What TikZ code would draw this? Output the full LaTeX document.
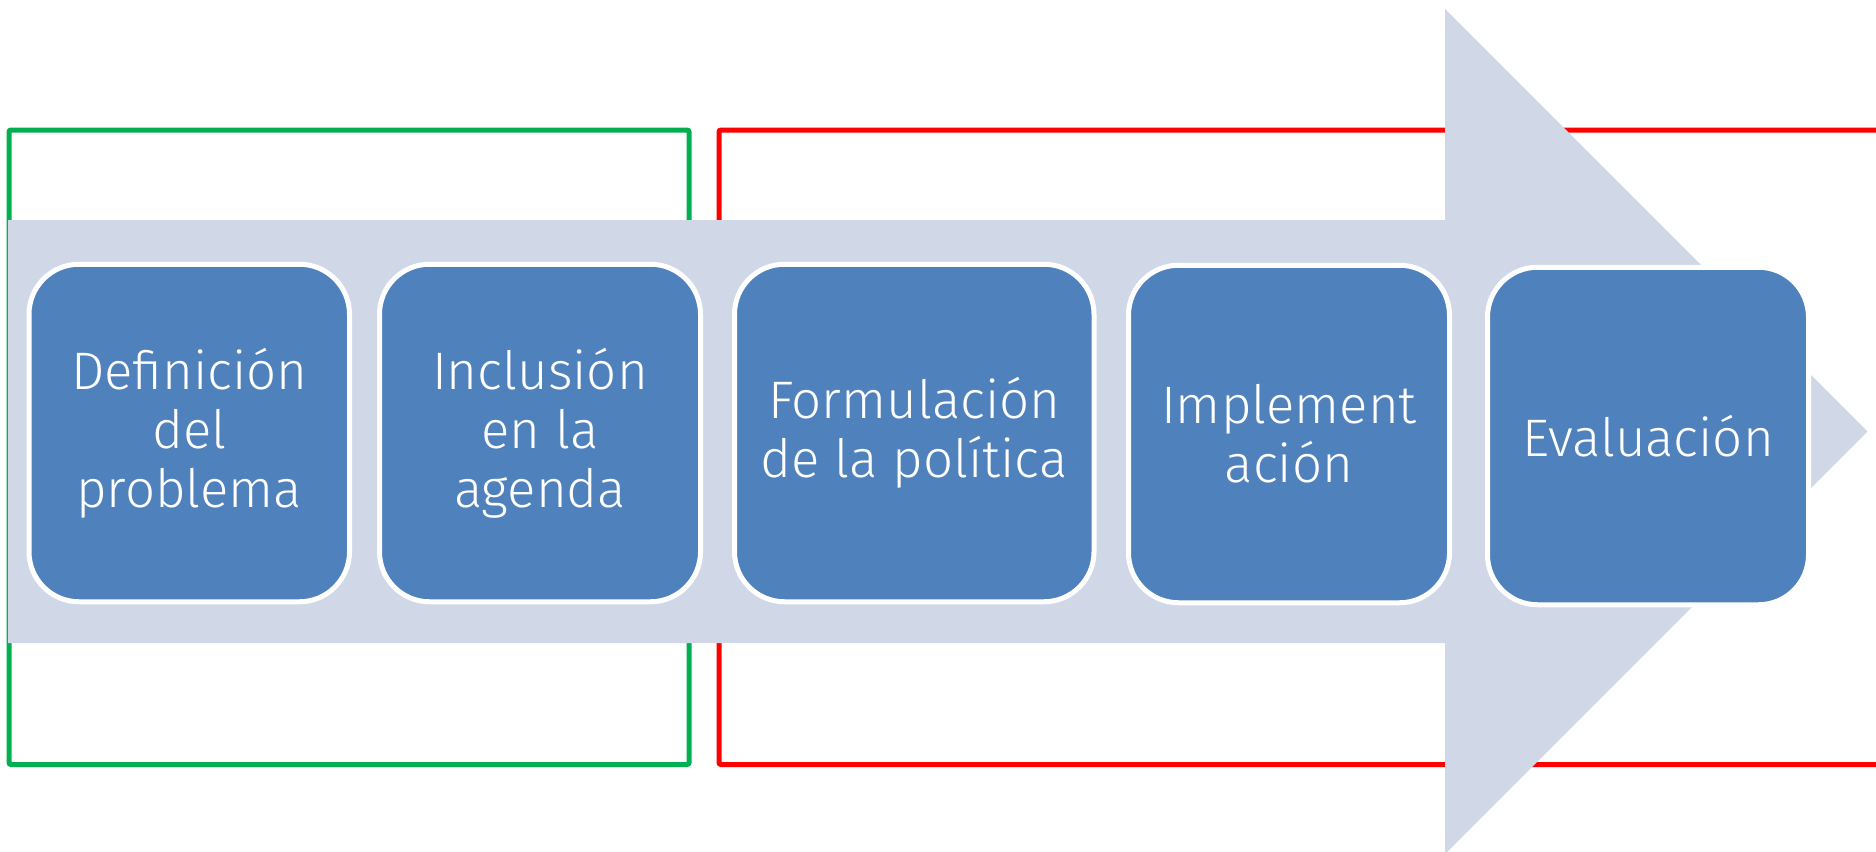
\documentclass[tikz,border=0pt]{standalone}
\usepackage{fontspec}
\setmainfont{Fira Sans Light}
\definecolor{boxblue}{HTML}{4F81BD}
\definecolor{arrowgray}{HTML}{D0D8E8}
\definecolor{framegreen}{HTML}{00B050}
\definecolor{framered}{HTML}{FF0000}
\tikzset{
  stage/.style={draw=white, line width=2.5pt, fill=boxblue, rounded corners=25pt,
    text=white, align=center, inner sep=0pt, minimum height=168.75pt,
    font=\fontsize{26.4}{29.5}\selectfont},
  frame/.style={line width=2.5pt, rounded corners=1pt},
}
\begin{document}
\begin{tikzpicture}[x=0.5pt, y=-0.5pt]
\useasboundingbox (0,0) rectangle (1876,852);
\clip (0,0) rectangle (1876,852);
% phase frames
\draw[frame, draw=framegreen] (9,130) rectangle (689,764.5);
\draw[frame, draw=framered] (1900,130) -- (719,130) -- (719,764.5) -- (1900,764.5);
% big arrow
\fill[arrowgray] (8,220) -- (1445,220) -- (1445,9) -- (1867.5,431.5) -- (1445,854) -- (1445,643) -- (8,643) -- cycle;
% stages
\node[stage, minimum width=160.25pt] (b1) at (189.25,433) {Definición\\del\\problema};
\node[stage, minimum width=160.5pt] (b2) at (540,433) {Inclusión\\en la\\agenda};
\node[stage, minimum width=179.75pt] (b3) at (914.25,433) {Formulación\\de la política};
\node[stage, minimum width=160.5pt] (b4) at (1289,434) {Implement\\ación};
\node[stage, minimum width=160.5pt] (b5) at (1648,436) {Evaluación};
\end{tikzpicture}
\end{document}
